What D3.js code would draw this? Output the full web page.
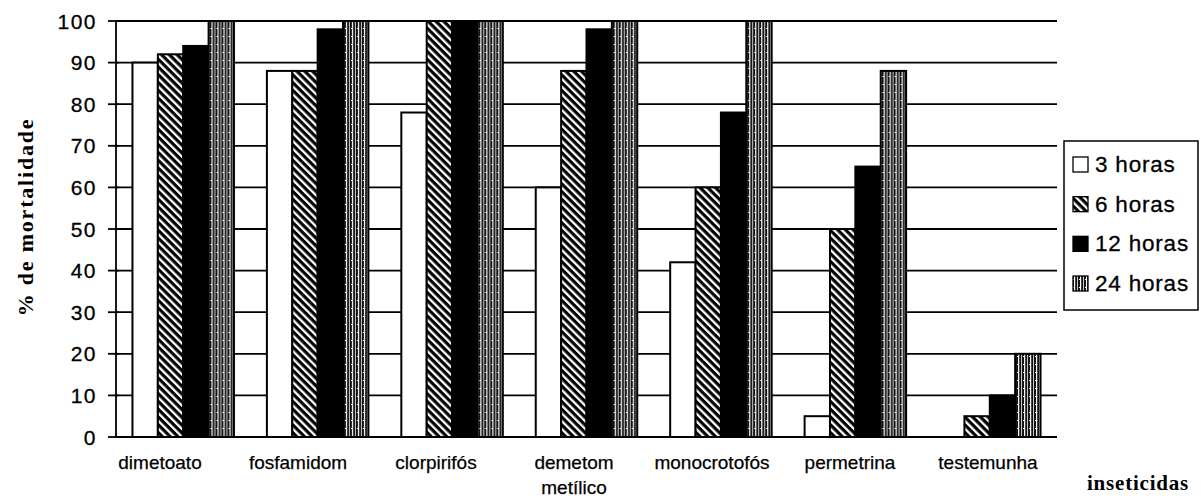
<!DOCTYPE html>
<html>
<head>
<meta charset="utf-8">
<script src="https://cdn.jsdelivr.net/npm/d3@7"></script>
<style>
  html, body { margin: 0; padding: 0; background: #fff; }
  svg { display: block; }
</style>
</head>
<body>
<svg id="chart" width="1201" height="501"></svg>
<script>
// ---- data ----
const categories = ["dimetoato", "fosfamidom", "clorpirifós", "demetom metílico", "monocrotofós", "permetrina", "testemunha"];
const categoryLabels = [["dimetoato"], ["fosfamidom"], ["clorpirifós"], ["demetom", "metílico"], ["monocrotofós"], ["permetrina"], ["testemunha"]];
const seriesNames = ["3 horas", "6 horas", "12 horas", "24 horas"];
const h3  = [90, 88, 78, 60, 42, 5, 0];
const h6  = [92, 88, 100, 88, 60, 50, 5];
const h12 = [94, 98, 100, 98, 78, 65, 10];
const h24 = [100, 100, 100, 100, 100, 88, 20];
const seriesValues = [h3, h6, h12, h24];
const yTicks = [0, 10, 20, 30, 40, 50, 60, 70, 80, 90, 100];
const yTitle = "% de mortalidade";
const xTitle = "inseticidas";

// ---- layout ----
const svg = d3.select("#chart");
const plot = { left: 116, right: 1057, top: 21, bottom: 437 };

const x0 = d3.scaleBand().domain(categories).range([plot.left, plot.right])
  .paddingInner(0.245).paddingOuter(0.1225);
const x1 = d3.scaleBand().domain(seriesNames).range([0, x0.bandwidth()]).padding(0);
const y = d3.scaleLinear().domain([0, 100]).range([plot.bottom, plot.top]);
// label positions (labels in the original sit slightly off the group centres)
const xl = d3.scalePoint().domain(categories).range([160, 988]);

// ---- patterns ----
const defs = svg.append("defs");
const p6 = defs.append("pattern").attr("id", "pat6").attr("patternUnits", "userSpaceOnUse")
  .attr("width", 5.5).attr("height", 5.5).attr("patternTransform", "rotate(-45)");
p6.append("rect").attr("width", 5.5).attr("height", 5.5).attr("fill", "#000");
p6.append("rect").attr("x", 0).attr("width", 2.3).attr("height", 5.5).attr("fill", "#fff");

const p24 = defs.append("pattern").attr("id", "pat24").attr("patternUnits", "userSpaceOnUse")
  .attr("width", 6).attr("height", 8);
p24.append("rect").attr("width", 6).attr("height", 8).attr("fill", "#111");
p24.append("rect").attr("x", 1).attr("width", 1.2).attr("height", 8).attr("fill", "#fff");
p24.append("rect").attr("x", 4).attr("width", 1).attr("height", 8).attr("fill", "#ccc");
p24.append("rect").attr("x", 0).attr("y", 4).attr("width", 2).attr("height", 1).attr("fill", "#fff");

const fills = ["#fff", "url(#pat6)", "#000", "url(#pat24)"];

// ---- gridlines ----
svg.append("g").selectAll("line").data(yTicks.filter(d => d > 0)).join("line")
  .attr("x1", plot.left).attr("x2", plot.right)
  .attr("y1", d => y(d)).attr("y2", d => y(d))
  .attr("stroke", "#000").attr("stroke-width", 1.8);

// ---- bars ----
const groups = svg.append("g").selectAll("g").data(categories).join("g")
  .attr("transform", d => `translate(${x0(d)},0)`);
groups.selectAll("rect").data((d, i) => seriesNames.map((s, j) => ({ s, j, v: seriesValues[j][i] })))
  .join("rect")
  .attr("x", d => x1(d.s))
  .attr("width", x1.bandwidth())
  .attr("y", d => y(d.v))
  .attr("height", d => y(0) - y(d.v))
  .attr("fill", d => fills[d.j])
  .attr("stroke", "#000")
  .attr("stroke-width", d => d.v > 0 ? 2 : 0);

// ---- axes ----
const yAxis = d3.axisLeft(y).tickValues(yTicks).tickSize(0).tickPadding(0);
const yg = svg.append("g").attr("transform", `translate(${plot.left},0)`).call(yAxis);
yg.select(".domain").remove();
yg.selectAll("text").remove();
svg.append("line").attr("x1", plot.left).attr("x2", plot.left)
  .attr("y1", y(100)).attr("y2", y(0)).attr("stroke", "#000").attr("stroke-width", 1.8);
svg.append("line").attr("x1", plot.left).attr("x2", plot.right)
  .attr("y1", y(0)).attr("y2", y(0)).attr("stroke", "#000").attr("stroke-width", 2);
svg.append("g").selectAll("line").data(yTicks).join("line")
  .attr("x1", plot.left - 8).attr("x2", plot.left + 3)
  .attr("y1", d => y(d)).attr("y2", d => y(d))
  .attr("stroke", "#000").attr("stroke-width", 1.8);
svg.append("g").selectAll("text").data(yTicks).join("text")
  .attr("x", 97).attr("y", d => y(d)).attr("dy", "0.36em")
  .attr("text-anchor", "end")
  .attr("font-family", "Liberation Sans, Arial, sans-serif")
  .attr("font-size", 21).attr("letter-spacing", 1.5)
  .attr("stroke", "#000").attr("stroke-width", 0.3)
  .text(d => d);

// x labels
const xlab = svg.append("g").selectAll("text").data(categories).join("text")
  .attr("x", d => xl(d)).attr("y", 469)
  .attr("text-anchor", "middle")
  .attr("font-family", "Liberation Sans, Arial, sans-serif")
  .attr("font-size", 19)
  .attr("stroke", "#000").attr("stroke-width", 0.25);
xlab.each(function (d, i) {
  const t = d3.select(this);
  categoryLabels[i].forEach((line, k) => {
    t.append("tspan").attr("x", xl(d)).attr("dy", k === 0 ? 0 : 25).text(line);
  });
});

// axis titles
svg.append("text")
  .attr("transform", `translate(33,217) rotate(-90)`)
  .attr("text-anchor", "middle")
  .attr("font-family", "Liberation Serif, Times New Roman, serif")
  .attr("font-weight", "bold").attr("font-size", 22).attr("letter-spacing", 1.8)
  .text(yTitle);
svg.append("text")
  .attr("x", 1138).attr("y", 490).attr("text-anchor", "middle")
  .attr("font-family", "Liberation Serif, Times New Roman, serif")
  .attr("font-weight", "bold").attr("font-size", 21).attr("letter-spacing", 0.8)
  .text(xTitle);

// ---- legend ----
const lg = svg.append("g");
lg.append("rect").attr("x", 1064).attr("y", 141).attr("width", 134).attr("height", 169)
  .attr("fill", "#fff").attr("stroke", "#000").attr("stroke-width", 1.5);
const ly = d3.scalePoint().domain(seriesNames).range([164, 283]);
const items = lg.selectAll("g").data(seriesNames).join("g")
  .attr("transform", d => `translate(1073,${ly(d)})`);
items.append("rect").attr("x", 0).attr("y", -7).attr("width", 15).attr("height", 15)
  .attr("fill", (d, i) => fills[i]).attr("stroke", "#000").attr("stroke-width", 1.3);
items.append("text").attr("x", 22).attr("dy", "0.36em")
  .attr("font-family", "Liberation Sans, Arial, sans-serif")
  .attr("font-size", 22.5).attr("letter-spacing", 0.8)
  .attr("stroke", "#000").attr("stroke-width", 0.3)
  .text(d => d);
</script>
</body>
</html>
